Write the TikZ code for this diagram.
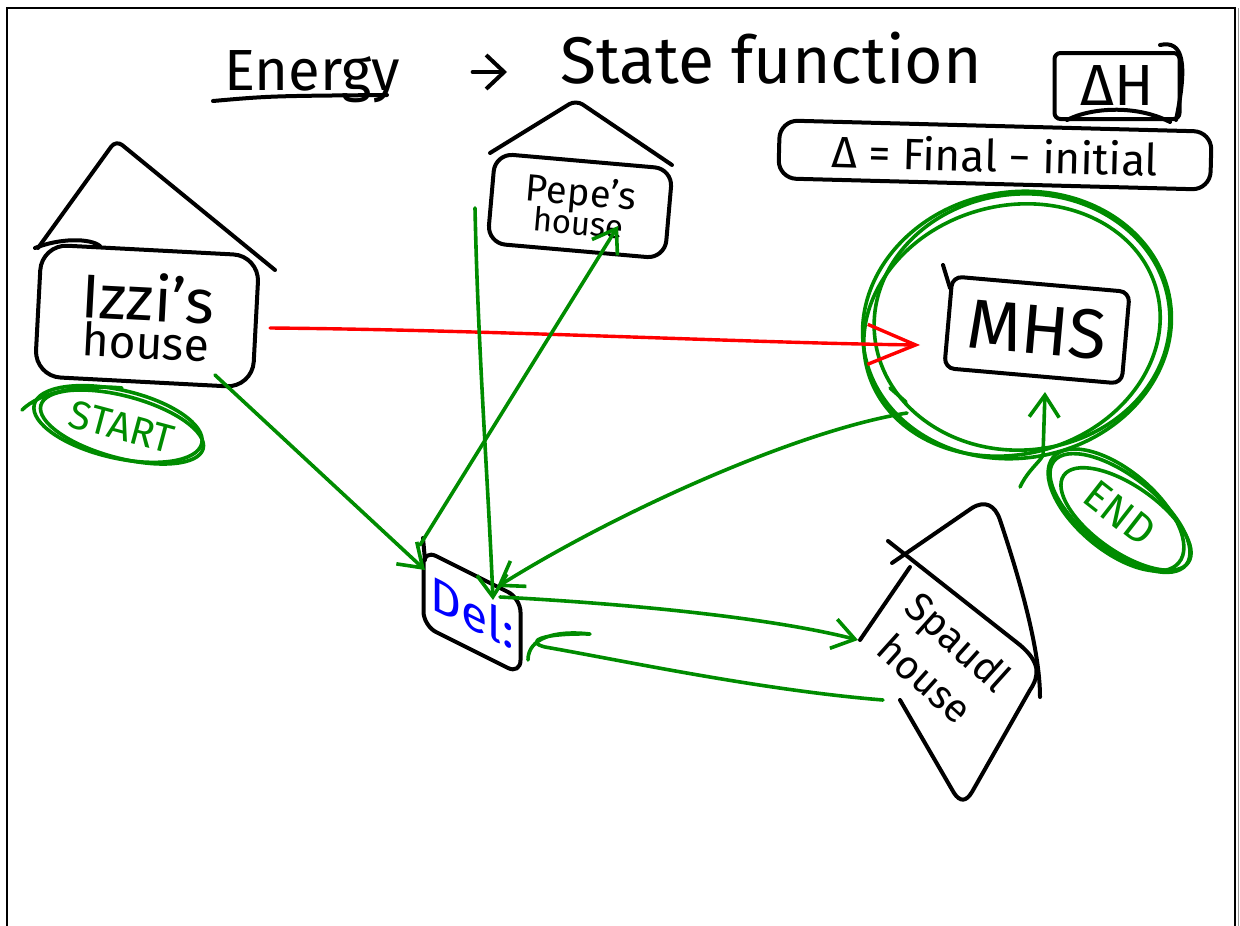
\documentclass[tikz,border=0pt]{standalone}
\usepackage{fontspec}
\setmainfont{Fira Sans}
\usetikzlibrary{arrows.meta,shapes.geometric}
\definecolor{pengreen}{RGB}{0,140,0}
\definecolor{penred}{RGB}{255,0,0}
\definecolor{penblue}{RGB}{0,0,255}
\definecolor{edgegray}{RGB}{150,150,150}
\newcommand\handsize[1]{\fontsize{#1}{#1}\selectfont}
\begin{document}
\begin{tikzpicture}[x=1pt,y=-1pt,
  ink/.style={line width=4pt,line cap=round,line join=round},
  blackink/.style={ink,draw=black},
  greenink/.style={ink,draw=pengreen,line width=3.6pt},
  redink/.style={ink,draw=penred,line width=3.4pt},
  hbox/.style={blackink,inner sep=0pt},
  loopring/.style={greenink,ellipse,inner sep=0pt},
  barb/.style={-{Straight Barb[length=22pt,width=30pt]}},
  smallbarb/.style={-{Straight Barb[length=18pt,width=34pt]}},
  bigbarb/.style={-{Straight Barb[length=48pt,width=40pt]}},
]
\useasboundingbox (0,0) rectangle (1240,926);

% sheet edges
\draw[line width=1.6pt] (7,926) -- (7,8) -- (1235,8) -- (1235,926);
\draw[edgegray,line width=1.5pt] (1238.5,8) -- (1238.5,926);

% heading
\node[font=\handsize{58},anchor=base west,inner sep=0pt] (energy) at (224,90) {Energy};
\node[font=\handsize{66},anchor=base west,inner sep=0pt] (state) at (560,83) {State function};
\draw[blackink] (213,101) .. controls (270,96) .. (387,95);
\draw[blackink,smallbarb] ([shift={(72,-18)}]energy.base east) -- ([shift={(-53,-11)}]state.base west);

% Delta H box and the definition of Delta
\node[hbox,draw,rounded corners=6,minimum width=125,minimum height=66,font=\handsize{58}] (dh) at (1117,86) {ΔH};
\draw[blackink] (1160,45) .. controls (1183,40) and (1188,62) .. (1176,120);
\draw[blackink] (1067,120) .. controls (1090,108) and (1135,104) .. (1170,122);
\node[hbox,draw,rounded corners=18,minimum width=432,minimum height=58,rotate=-1.5,font=\handsize{44}] (delta) at (995,155) {Δ = Final − initial};

% Izzi's house
\node[hbox,draw,rounded corners=26,minimum width=218,minimum height=132,rotate=-3,align=center] (izzi) at (147,316)
  {{\handsize{62}Izzi's}\\[2pt]{\handsize{46}house}};
\draw[blackink,rounded corners=8] (38,248) -- (116,140) -- (275,270);
\draw[blackink] (35,248) .. controls (60,238) and (90,238) .. (100,246);

% Pepe's house
\node[hbox,draw,rounded corners=18,minimum width=178,minimum height=90,rotate=-5,align=center] (pepe) at (580,206)
  {{\handsize{38}Pepe's}\\[-4pt]{\handsize{33}house}};
\draw[blackink,rounded corners=8] (490,153) -- (576,100) -- (672,165);

% MHS, circled
\node[loopring,minimum width=310,minimum height=266,rotate=10] (ring) at (1017,325) {};
\draw[greenink,rotate around={5:(1022,322)}] (1022,322) ellipse [x radius=148,y radius=128];
\draw[greenink,rotate around={16:(1012,330)}] (1012,330) ellipse [x radius=150,y radius=124];
\draw[greenink] (890,388) -- (906,402);
\node[hbox,draw,rounded corners=10,minimum width=178,minimum height=92,rotate=-5,font=\handsize{70}] (mhs) at (1037,330) {MHS};
\draw[blackink] (943,265) -- (950,288);

% END
\node[loopring,minimum width=168,minimum height=74,rotate=-38,text=pengreen,font=\handsize{42}] (endn) at (1120,513) {END};
\draw[greenink,rotate around={-40:(1116,510)}] (1116,510) ellipse [x radius=82,y radius=40];
\draw[greenink,rotate around={-35:(1126,519)}] (1126,519) ellipse [x radius=76,y radius=33];

% START
\node[loopring,minimum width=168,minimum height=62,rotate=-15,text=pengreen,font=\handsize{40}] (start) at (122,427) {START};
\draw[greenink,rotate around={-13:(118,424)}] (118,424) ellipse [x radius=86,y radius=34];
\draw[greenink] (22,410) .. controls (40,392) and (80,384) .. (122,388);

% Del
\node[hbox,draw,rounded corners=14,minimum width=97,minimum height=76,yslant=-0.5,text=penblue,font=\handsize{48}] (del) at (472,612) {Del:};
\draw[blackink] (423,538) -- (425,560);

% Spaudl house: a kite drawn in three strokes
\coordinate (spaudl) at (960,652);
\draw[blackink] (892,563) -- (972,508) .. controls (985,500) and (995,505) .. (1000,520)
  .. controls (1020,580) and (1040,650) .. (1040,697);
\draw[blackink] (888,541) -- (1020,645) .. controls (1040,662) and (1040,675) .. (1030,690)
  -- (972,792) .. controls (966,802) and (960,802) .. (954,793) -- (900,700);
\draw[blackink] (910,567) -- (860,640);
\node[rotate=-42,align=center,font=\handsize{40},inner sep=0pt] (spaudltext) at (942,660) {Spaudl\\[10pt]house};

% trips between the places
\draw[redink,bigbarb] ([shift={(123,12)}]izzi.center) .. controls (500,330) and (750,343) .. ([shift={(-117,15)}]mhs.center);
\draw[greenink,barb] ([shift={(68,59)}]izzi.center) -- ([shift={(-47,-42)}]del.center);
\draw[greenink,barb] ([shift={(-52,-67)}]del.center) -- ([shift={(38,20)}]pepe.center);
\draw[greenink,barb] ([shift={(-105,2)}]pepe.center) .. controls (478,350) and (488,480) .. ([shift={(21,-12)}]del.center);
\draw[greenink,barb] ([shift={(-110,88)}]ring.center) .. controls (800,430) and (620,510) .. ([shift={(25,-25)}]del.center);
\draw[greenink,barb] ([shift={(28,-15)}]del.center) .. controls (650,605) and (780,620) .. ([shift={(-102,-12)}]spaudl);
\draw[greenink] ([shift={(-77,48)}]spaudl) .. controls (760,690) and (620,660) .. (545,647)
  .. controls (525,642) and (540,633) .. (590,634) .. controls (555,630) and (528,638) .. ([shift={(56,48)}]del.center);
\draw[greenink,barb] ([shift={(-100,-26)}]endn.center) .. controls (1028,470) and (1040,462) .. (1043,455) -- ([shift={(8,62)}]mhs.center);
\end{tikzpicture}
\end{document}
